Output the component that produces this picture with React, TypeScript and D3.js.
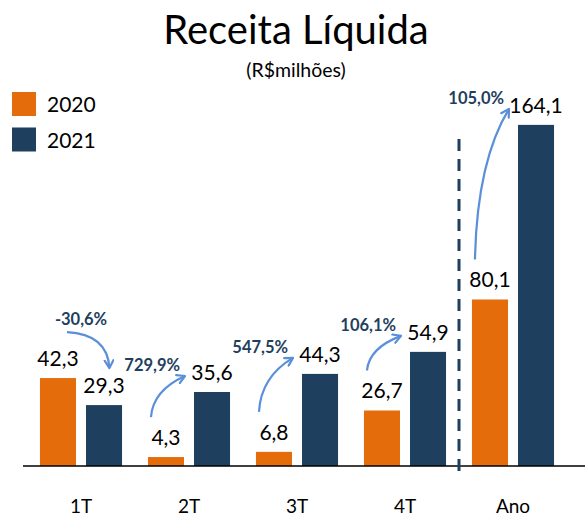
import React, { useRef, useEffect } from 'react';
import * as d3 from 'd3';

// Chart data
const categories = ['1T', '2T', '3T', '4T', 'Ano'];
const seriesNames = ['2020', '2021'];
const values2020 = [42.3, 4.3, 6.8, 26.7, 80.1];
const values2021 = [29.3, 35.6, 44.3, 54.9, 164.1];
const changeLabels = ['-30,6%', '729,9%', '547,5%', '106,1%', '105,0%'];

const ORANGE = '#E46C0A';
const NAVY = '#1F3F5E';
const ARROW = '#5A8FDA';
const FONT = 'Lato, "Open Sans", sans-serif';

const App = () => {
  const chartRef = useRef<SVGSVGElement | null>(null);

  useEffect(() => {
    const baseY = 466;

    const svg = d3.select(chartRef.current);
    svg.selectAll('*').remove();

    const ptBR = d3.formatLocale({
      decimal: ',',
      thousands: '.',
      grouping: [3],
      currency: ['R$', ''],
    });
    const fmt = ptBR.format('.1f');

    // scales
    const x = d3
      .scaleBand()
      .domain(categories)
      .range([27, 567])
      .paddingInner(0.24)
      .paddingOuter(0.12);

    const inner = d3
      .scaleBand()
      .domain(seriesNames)
      .range([0, x.bandwidth()])
      .paddingInner(0.217);

    const y = d3.scaleLinear().domain([0, 165]).range([baseY, 123]);

    const color = d3.scaleOrdinal<string>().domain(seriesNames).range([ORANGE, NAVY]);

    const rows = categories.map((c, i) => ({
      cat: c,
      vals: [values2020[i], values2021[i]],
      change: changeLabels[i],
    }));

    // title
    svg
      .append('text')
      .attr('x', 296)
      .attr('y', 44)
      .attr('text-anchor', 'middle')
      .style('font-family', FONT)
      .style('font-size', '40px')
      .text('Receita Líquida');

    svg
      .append('text')
      .attr('x', 296)
      .attr('y', 77)
      .attr('text-anchor', 'middle')
      .style('font-family', FONT)
      .style('font-size', '19.5px')
      .text('(R$milhões)');

    // legend
    const legend = svg
      .selectAll('.legend')
      .data(seriesNames)
      .enter()
      .append('g')
      .attr('transform', (_, i) => `translate(12,${92 + i * 35.5})`);
    legend
      .append('rect')
      .attr('width', 24)
      .attr('height', 24)
      .attr('fill', (d) => color(d));
    legend
      .append('text')
      .attr('x', 35)
      .attr('y', 20)
      .style('font-family', FONT)
      .style('font-size', '21px')
      .text((d) => d);

    // arrow marker
    svg
      .append('defs')
      .append('marker')
      .attr('id', 'head')
      .attr('viewBox', '0 0 10 10')
      .attr('refX', 8)
      .attr('refY', 5)
      .attr('markerWidth', 11)
      .attr('markerHeight', 11)
      .attr('markerUnits', 'userSpaceOnUse')
      .attr('orient', 'auto')
      .append('path')
      .attr('d', 'M1,1 L8,5 L1,9')
      .attr('fill', 'none')
      .attr('stroke', ARROW)
      .attr('stroke-width', 2)
      .attr('stroke-linecap', 'round')
      .attr('stroke-linejoin', 'round');

    // bars
    const groups = svg
      .selectAll('.grp')
      .data(rows)
      .enter()
      .append('g')
      .attr('transform', (d) => `translate(${x(d.cat)},0)`);

    groups
      .selectAll('rect')
      .data((d) => d.vals.map((v, i) => ({ key: seriesNames[i], v })))
      .enter()
      .append('rect')
      .attr('x', (d) => inner(d.key) as number)
      .attr('y', (d) => y(d.v))
      .attr('width', inner.bandwidth())
      .attr('height', (d) => baseY - y(d.v))
      .attr('fill', (d) => color(d.key));

    groups
      .selectAll('.val')
      .data((d) => d.vals.map((v, i) => ({ key: seriesNames[i], v })))
      .enter()
      .append('text')
      .attr('x', (d) => (inner(d.key) as number) + inner.bandwidth() / 2)
      .attr('y', (d) => y(d.v) - 12)
      .attr('text-anchor', 'middle')
      .style('font-family', FONT)
      .style('font-size', '21px')
      .text((d) => fmt(d.v));

    // baseline
    svg
      .append('line')
      .attr('x1', 23)
      .attr('x2', 585)
      .attr('y1', baseY)
      .attr('y2', baseY)
      .attr('stroke', '#000')
      .attr('stroke-width', 1.3);

    // separator before "Ano"
    const sepX = ((x('4T') as number) + x.bandwidth() + (x('Ano') as number)) / 2;
    svg
      .append('line')
      .attr('x1', sepX)
      .attr('x2', sepX)
      .attr('y1', 139)
      .attr('y2', baseY + 6)
      .attr('stroke', NAVY)
      .attr('stroke-width', 3)
      .attr('stroke-dasharray', '12,8');

    // category labels
    svg
      .selectAll('.cat')
      .data(categories)
      .enter()
      .append('text')
      .attr('x', (d) => (x(d) as number) + x.bandwidth() / 2)
      .attr('y', 513)
      .attr('text-anchor', 'middle')
      .style('font-family', FONT)
      .style('font-size', '19px')
      .text((d) => d);

    // growth arrows
    rows.forEach((r) => {
      const gx = x(r.cat) as number;
      const ox = gx + (inner('2020') as number);
      const nx = gx + (inner('2021') as number);
      const bw = inner.bandwidth();
      const p = d3.path();
      if (r.vals[1] < r.vals[0]) {
        const sx = ox + bw * 0.75;
        const sy = y(r.vals[0]) - 46;
        const ex = nx + bw * 0.65;
        const ey = y(r.vals[1]) - 37;
        p.moveTo(sx, sy);
        p.quadraticCurveTo(ex - 2, sy + 2, ex, ey);
        svg
          .append('text')
          .attr('x', gx + x.bandwidth() / 2)
          .attr('y', sy - 7)
          .attr('text-anchor', 'middle')
          .style('font-family', FONT)
          .style('font-size', '16.5px')
          .style('font-weight', 'bold')
          .attr('fill', NAVY)
          .text(r.change);
      } else {
        const sx = ox + 3;
        const sy = y(r.vals[0]) - 40;
        const ex = nx - 9;
        const ey = y(r.vals[1]) - 16;
        p.moveTo(sx, sy);
        p.quadraticCurveTo(sx + 2, ey + (sy - ey) * 0.35, ex, ey);
        svg
          .append('text')
          .attr('x', ex - 5)
          .attr('y', ey - 5)
          .attr('text-anchor', 'end')
          .style('font-family', FONT)
          .style('font-size', '16.5px')
          .style('font-weight', 'bold')
          .attr('fill', NAVY)
          .text(r.change);
      }
      svg
        .append('path')
        .attr('d', p.toString())
        .attr('fill', 'none')
        .attr('stroke', ARROW)
        .attr('stroke-width', 2.2)
        .attr('marker-end', 'url(#head)');
    });
  }, []);

  return (
    <svg
      ref={chartRef}
      width={585}
      height={517}
      style={{ position: 'absolute', left: 0, top: 0, background: '#fff' }}
    ></svg>
  );
};

export default App;
